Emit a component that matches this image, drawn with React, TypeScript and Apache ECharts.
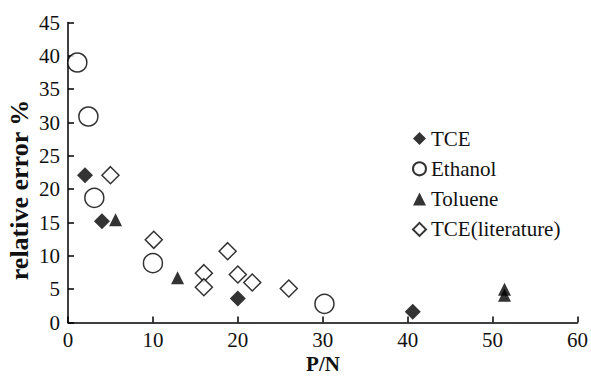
import React, { useEffect, useRef } from "react";
import * as echarts from "echarts";

const tceData: [number, number][] = [
  [2.0, 22.1],
  [4.0, 15.2],
  [20.0, 3.6],
  [40.6, 1.6],
];
const ethanolData: [number, number][] = [
  [1.1, 39.0],
  [2.4, 30.9],
  [3.1, 18.7],
  [10.0, 8.9],
  [30.2, 2.8],
];
const tolueneData: [number, number][] = [
  [5.6, 15.4],
  [12.9, 6.7],
  [51.4, 5.0],
  [51.4, 4.1],
];
const tceLitData: [number, number][] = [
  [5.0, 22.1],
  [10.1, 12.4],
  [16.0, 7.4],
  [16.0, 5.3],
  [18.8, 10.7],
  [20.0, 7.2],
  [21.7, 6.0],
  [26.0, 5.1],
];
const seriesNames = ["TCE", "Ethanol", "Toluene", "TCE(literature)"];

const FONT = "Liberation Serif";

export default function App() {
  const ref = useRef<HTMLDivElement>(null);
  useEffect(() => {
    if (!ref.current) return;
    const chart = echarts.init(ref.current, undefined, { renderer: "svg" });
    const axisCommon = {
      axisLine: { show: true, lineStyle: { color: "#000", width: 1.5 } },
      axisTick: { show: true, inside: true, length: 6, lineStyle: { color: "#000", width: 1.5 } },
      splitLine: { show: false },
    };
    chart.setOption({
      animation: false,
      backgroundColor: "#fff",
      textStyle: { fontFamily: FONT },
      grid: { left: 68, right: 13, top: 22.5, bottom: 53.5, containLabel: false },
      xAxis: {
        type: "value",
        min: 0,
        max: 60,
        interval: 10,
        ...axisCommon,
        axisLabel: { color: "#111", fontFamily: FONT, fontSize: 21, margin: 7 },
      },
      yAxis: {
        type: "value",
        min: 0,
        max: 45,
        interval: 5,
        ...axisCommon,
        axisLabel: { color: "#111", fontFamily: FONT, fontSize: 21, margin: 8 },
      },
      legend: {
        orient: "vertical",
        left: 407,
        top: 123,
        itemWidth: 13,
        itemHeight: 13,
        itemGap: 9.3,
        data: seriesNames,
        textStyle: { fontFamily: FONT, fontSize: 21, color: "#111", lineHeight: 21 },
      },
      graphic: [
        {
          type: "text",
          x: 19,
          y: 190,
          rotation: Math.PI / 2,
          style: {
            text: "relative error %",
            font: `bold 26px ${FONT}`,
            fill: "#111",
            align: "center",
            verticalAlign: "middle",
          },
        },
        {
          type: "text",
          x: 323,
          y: 364,
          style: {
            text: "P/N",
            font: `bold 21px ${FONT}`,
            fill: "#111",
            align: "center",
            verticalAlign: "middle",
          },
        },
      ],
      series: [
        {
          name: seriesNames[0],
          type: "scatter",
          data: tceData,
          symbol: "diamond",
          symbolSize: 16,
          itemStyle: { color: "#000" },
        },
        {
          name: seriesNames[1],
          type: "scatter",
          data: ethanolData,
          symbol: "circle",
          symbolSize: 19,
          itemStyle: { color: "#fff", borderColor: "#000", borderWidth: 1.5 },
        },
        {
          name: seriesNames[2],
          type: "scatter",
          data: tolueneData,
          symbol: "triangle",
          symbolSize: 13,
          itemStyle: { color: "#000" },
        },
        {
          name: seriesNames[3],
          type: "scatter",
          data: tceLitData,
          symbol: "diamond",
          symbolSize: 17,
          itemStyle: { color: "#fff", borderColor: "#000", borderWidth: 1.5 },
        },
      ],
    });
    return () => chart.dispose();
  }, []);
  return (
    <>
      <style>{`.serif-chart svg text { font-family: "Liberation Serif", "Times New Roman", serif !important; }`}</style>
      <div
        className="serif-chart"
        ref={ref}
        style={{ width: 591, height: 376, position: "absolute", left: 0, top: 0 }}
      />
    </>
  );
}
